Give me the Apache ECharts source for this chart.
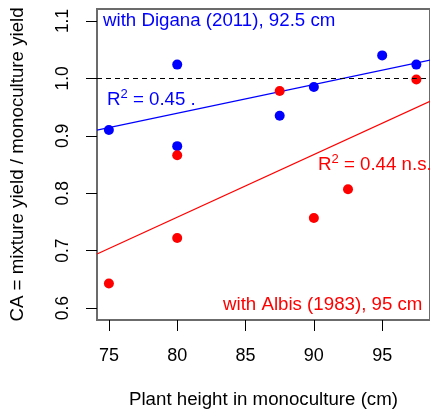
<!DOCTYPE html>
<html>
<head>
<meta charset="utf-8">
<script src="https://cdn.jsdelivr.net/npm/echarts@6/dist/echarts.min.js"></script>
<style>html,body{margin:0;padding:0;background:#fff;}#c{width:430px;height:414px;}</style>
</head>
<body>
<div id="c"></div>
<script>
// Data
const diganaX = [75, 80, 80, 87.5, 90, 95, 97.5];
const diganaY = [0.910, 1.024, 0.882, 0.935, 0.985, 1.040, 1.024];
const albisX = [75, 80, 80, 87.5, 90, 92.5, 97.5];
const albisY = [0.643, 0.722, 0.866, 0.978, 0.757, 0.807, 0.998];
const xTicks = [75, 80, 85, 90, 95];
const yTicks = [0.6, 0.7, 0.8, 0.9, 1.0, 1.1];
const xMin = 74.13, xMax = 98.5, yMin = 0.5793, yMax = 1.1208;

function fit(xs, ys) {
  const n = xs.length;
  const mx = xs.reduce((a, b) => a + b, 0) / n;
  const my = ys.reduce((a, b) => a + b, 0) / n;
  let sxy = 0, sxx = 0;
  for (let i = 0; i < n; i++) { sxy += (xs[i] - mx) * (ys[i] - my); sxx += (xs[i] - mx) ** 2; }
  const b = sxy / sxx, a = my - b * mx;
  return [[xMin, a + b * xMin], [xMax, a + b * xMax]];
}
const pts = (xs, ys) => xs.map((x, i) => [x, ys[i]]);

const FONT = "'Liberation Sans', Arial, sans-serif";
const chart = echarts.init(document.getElementById('c'), null, { renderer: 'canvas' });
chart.setOption({
  animation: false,
  grid: { left: 97, top: 9, width: 338, height: 313, show: true, borderColor: '#6b6b6b', borderWidth: 2, backgroundColor: 'transparent' },
  xAxis: {
    type: 'value', min: xMin, max: xMax,
    splitLine: { show: false },
    axisLine: { show: true, lineStyle: { color: '#6b6b6b', width: 2 } },
    axisTick: { show: true, customValues: xTicks, length: 11, lineStyle: { color: '#000', width: 1 } },
    axisLabel: { customValues: xTicks, margin: 27, fontSize: 18, color: '#000', fontFamily: FONT },
    name: 'Plant height in monoculture (cm)', nameLocation: 'middle', nameGap: 70,
    nameTextStyle: { fontSize: 18.7, color: '#000', fontFamily: FONT }
  },
  yAxis: {
    type: 'value', min: yMin, max: yMax,
    splitLine: { show: false },
    axisLine: { show: true, lineStyle: { color: '#6b6b6b', width: 2 } },
    axisTick: { show: true, customValues: yTicks, length: 11, lineStyle: { color: '#000', width: 1 } },
    axisLabel: { customValues: yTicks, rotate: 90, margin: 25, fontSize: 17.5, color: '#000', fontFamily: FONT,
      formatter: v => v.toFixed(1) },
    name: 'CA = mixture yield / monoculture yield', nameLocation: 'middle', nameGap: 70,
    nameTextStyle: { fontSize: 18.7, color: '#000', fontFamily: FONT }
  },
  series: [
    { type: 'line', data: fit(diganaX, diganaY), symbol: 'none', lineStyle: { color: '#0000ff', width: 1.3 }, z: 2,
      markLine: { silent: true, symbol: 'none', label: { show: false }, lineStyle: { color: '#000', type: [5, 4], width: 1 }, data: [{ yAxis: 1.0 }] } },
    { type: 'line', data: fit(albisX, albisY), symbol: 'none', lineStyle: { color: '#ff0000', width: 1.3 }, z: 2 },
    { type: 'scatter', data: pts(diganaX, diganaY), symbolSize: 10, itemStyle: { color: '#0000ff', opacity: 1 }, z: 3 },
    { type: 'scatter', data: pts(albisX, albisY), symbolSize: 10, itemStyle: { color: '#ff0000', opacity: 1 }, z: 4 }
  ],
  graphic: [
    { type: 'text', left: 103, top: 11, style: { text: 'with Digana (2011), 92.5 cm', fill: '#0000ff', font: '18.7px ' + FONT } },
    { type: 'text', left: 107, top: 88, style: { text: 'R{s|2} = 0.45 .', fill: '#0000ff', font: '18.7px ' + FONT,
      rich: { s: { fontSize: 13, verticalAlign: 'top', fill: '#0000ff', fontFamily: FONT, padding: [0, 0, 10, 0] } } } },
    { type: 'text', left: 318, top: 153, style: { text: 'R{s|2} = 0.44 n.s.', fill: '#ff0000', font: '18.7px ' + FONT,
      rich: { s: { fontSize: 13, verticalAlign: 'top', fill: '#ff0000', fontFamily: FONT, padding: [0, 0, 10, 0] } } } },
    { type: 'text', left: 223, top: 295, style: { text: 'with Albis (1983), 95 cm', fill: '#ff0000', font: '18.7px ' + FONT } }
  ]
});
</script>
</body>
</html>
